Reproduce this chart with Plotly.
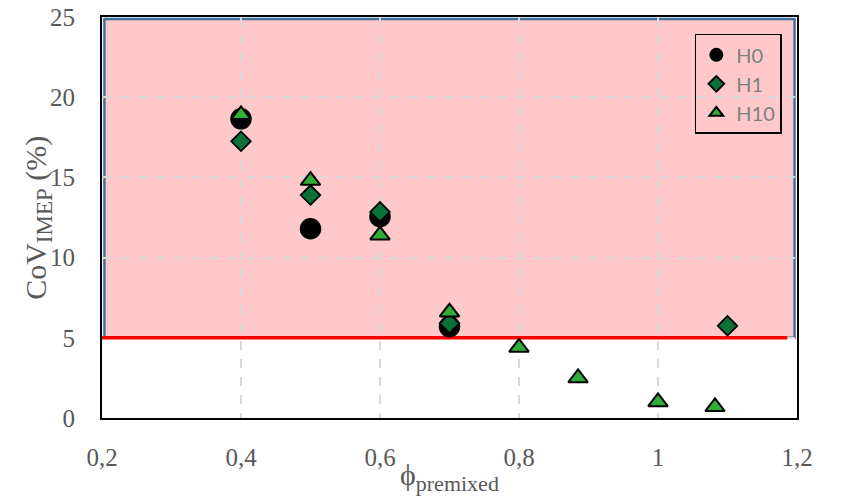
import plotly.graph_objects as go

# Data
h0_x = [0.4, 0.5, 0.6, 0.7]
h0_y = [18.65, 11.8, 12.55, 5.7]

h1_x = [0.4, 0.5, 0.6, 0.7, 1.1]
h1_y = [17.25, 13.9, 12.85, 5.9, 5.75]

h10_x = [0.4, 0.5, 0.6, 0.7, 0.8, 0.885, 1.0, 1.082]
h10_y = [18.9, 14.8, 11.4, 6.6, 4.4, 2.5, 1.0, 0.7]

x_ticks = [0.2, 0.4, 0.6, 0.8, 1.0, 1.2]
x_tick_labels = ["0,2", "0,4", "0,6", "0,8", "1", "1,2"]
y_ticks = [0, 5, 10, 15, 20, 25]
limit_x = [0.2, 1.186]
limit_y = [5, 5]

gray = "#595959"
serif = "Liberation Serif, Times New Roman, serif"

fig = go.Figure()
# red 5 % limit line (drawn first so markers sit on top)
fig.add_trace(go.Scatter(x=limit_x, y=limit_y, mode="lines", showlegend=False,
                         hoverinfo="skip", line=dict(color="#FF0000", width=3.5)))
fig.add_trace(go.Scatter(x=h0_x, y=h0_y, mode="markers", name="H0",
                         marker=dict(symbol="circle", size=20, color="black",
                                     line=dict(color="black", width=1.5))))
fig.add_trace(go.Scatter(x=h1_x, y=h1_y, mode="markers", name="H1",
                         marker=dict(symbol="diamond", size=15, color="#0a7236",
                                     line=dict(color="black", width=1.8))))
fig.add_trace(go.Scatter(x=h10_x, y=h10_y, mode="markers", name="H10",
                         marker=dict(symbol="triangle-up", size=17, color="#31ae3a",
                                     line=dict(color="black", width=2))))

# Pink "unstable" region
fig.add_shape(type="rect", xref="x", yref="y", x0=0.2035, x1=1.1965, y0=5, y1=24.88,
              fillcolor="#FFC9C9", line=dict(color="#41719C", width=2.5), layer="below")

# Axis titles as annotations for precise placement
fig.add_annotation(text="ϕ<sub><span style='font-size:22px'>premixed</span></sub>",
                   xref="paper", yref="paper", x=0.5, y=-0.146, xanchor="center", yanchor="middle",
                   showarrow=False, font=dict(family=serif, size=30, color=gray))
fig.add_annotation(text="CoV<sub><span style='font-size:23px'>IMEP</span></sub> (%)",
                   xref="paper", yref="paper", x=-0.093, y=0.5, xanchor="center", yanchor="middle",
                   textangle=-90, showarrow=False, font=dict(family=serif, size=30, color=gray))

fig.update_layout(
    width=843, height=498,
    margin=dict(l=102, r=46, t=17, b=80),
    paper_bgcolor="white", plot_bgcolor="white",
    showlegend=True,
    legend=dict(x=0.853, y=0.958, xanchor="left", yanchor="top",
                bgcolor="rgba(0,0,0,0)", bordercolor="black", borderwidth=1.5,
                font=dict(family="Lato, Open Sans, sans-serif", size=20, color="#7f7f7f"),
                itemsizing="constant", itemwidth=30),
)

fig.update_xaxes(range=[0.2, 1.2], tickvals=x_ticks, ticktext=x_tick_labels, automargin=False,
                 showgrid=True, gridcolor="#D9D9D9", griddash="dash", gridwidth=1.5,
                 zeroline=False, showline=True, linecolor="black", linewidth=2, mirror=True,
                 ticks="outside", ticklen=16, tickcolor="rgba(0,0,0,0)",
                 tickfont=dict(family=serif, size=25, color=gray))
fig.update_yaxes(range=[0, 25], tickvals=y_ticks, automargin=False,
                 showgrid=True, gridcolor="#D9D9D9", griddash="dash", gridwidth=1.5,
                 zeroline=False, showline=True, linecolor="black", linewidth=2, mirror=True,
                 ticks="outside", ticklen=20, tickcolor="rgba(0,0,0,0)",
                 tickfont=dict(family=serif, size=25, color=gray))

fig.write_html("out.html", config={"displayModeBar": False},
               post_script="document.body.style.margin='0';")
